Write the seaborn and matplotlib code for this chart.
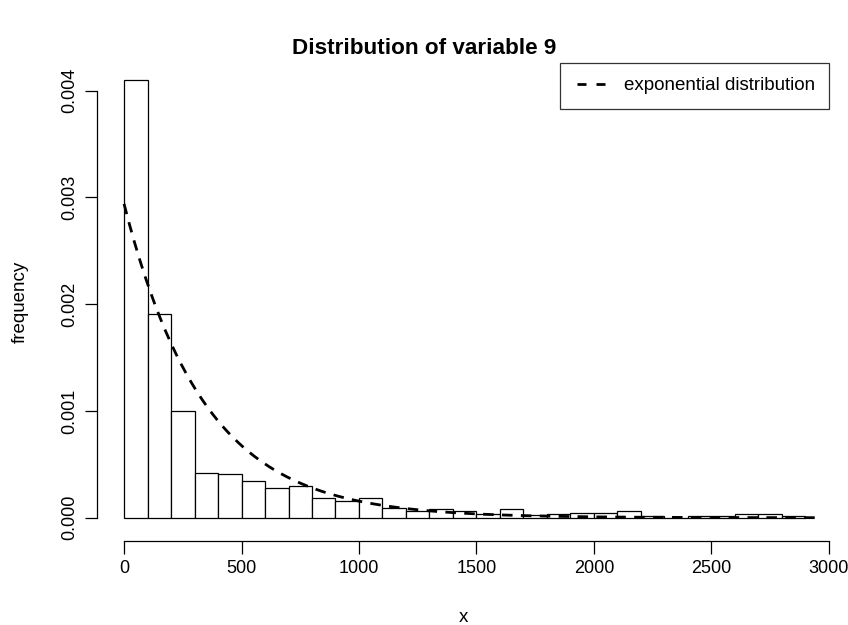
import numpy as np
import pandas as pd
import matplotlib
matplotlib.use("Agg")
import matplotlib.pyplot as plt
import seaborn as sns
from matplotlib.lines import Line2D

# ---- data ----
bin_left = list(range(0, 2900, 100))          # bins of width 100 from 0 to 2900
bin_width = 100
densities = [0.0041, 0.00191, 0.00100, 0.000422, 0.000406, 0.000341, 0.000281,
             0.000297, 0.000185, 0.000156, 0.000187, 0.000094, 0.000060, 0.000079,
             0.000063, 0.000032, 0.000079, 0.000022, 0.000032, 0.000047, 0.000047,
             0.000060, 0.000012, 0.0, 0.000012, 0.000012, 0.000032, 0.000032,
             0.000012]
exp_rate = 0.00294          # rate of the fitted exponential distribution
curve_end = 2940            # curve is drawn from 0 to here
x_ticks = [0, 500, 1000, 1500, 2000, 2500, 3000]
y_ticks = [0.000, 0.001, 0.002, 0.003, 0.004]
y_tick_labels = ["0.000", "0.001", "0.002", "0.003", "0.004"]

title = "Distribution of variable 9"
legend_label = "exponential distribution"

# ---- styling ----
sns.set_style("white")
plt.rcParams['font.family'] = ['Liberation Sans', 'DejaVu Sans']
plt.rcParams['text.color'] = 'black'
plt.rcParams['axes.labelcolor'] = 'black'
plt.rcParams['xtick.color'] = 'black'
plt.rcParams['ytick.color'] = 'black'

fig = plt.figure(figsize=(8.48, 6.25), dpi=100)
ax = fig.add_axes([0.1147, 0.1344, 0.8633, 0.7643])

df = pd.DataFrame({"x": [b + bin_width / 2 for b in bin_left], "w": densities})
edges = bin_left + [bin_left[-1] + bin_width]
sns.histplot(data=df, x="x", weights="w", bins=edges, stat="count",
             color="white", edgecolor="black", linewidth=0.9, alpha=1, ax=ax)

xs = np.linspace(0, curve_end, 400)
ys = exp_rate * np.exp(-exp_rate * xs)
sns.lineplot(x=xs, y=ys, ax=ax, color="black", linewidth=2.0, linestyle=(0, (3.8, 3.0)))

ax.set_xlim(-114, 3002)
ax.set_ylim(-0.000218, 0.004257)

for s in ["top", "right"]:
    ax.spines[s].set_visible(False)
ax.spines["left"].set_bounds(0, 0.004)
ax.spines["bottom"].set_bounds(0, 3000)
for s in ["left", "bottom"]:
    ax.spines[s].set_color("black")
    ax.spines[s].set_linewidth(0.9)

ax.set_xticks(x_ticks)
ax.set_xticklabels([str(t) for t in x_ticks])
ax.set_yticks(y_ticks)
ax.set_yticklabels(y_tick_labels, rotation=90, va="center")
ax.tick_params(axis="both", which="both", direction="out", length=9, width=0.9,
               color="black", labelsize=13, pad=5, left=True, bottom=True)

ax.set_xlabel("x", fontsize=13.5, labelpad=23)
ax.set_ylabel("frequency", fontsize=13.5, labelpad=23)
fig.text(0.5, 1 - 49 / 625, title, ha="center", va="center",
         fontsize=16.2, fontweight="bold")

handle = Line2D([0], [0], color="black", linewidth=2.0,
                linestyle=(5.76, (3.24, 3.6)))
leg = ax.legend([handle], [legend_label], loc="upper right", bbox_to_anchor=(1.0, 1.0),
                borderaxespad=0, frameon=True, fancybox=False, fontsize=13.5,
                handlelength=1.65, handletextpad=1.01, borderpad=0.75)
leg.get_frame().set_edgecolor("black")
leg.get_frame().set_linewidth(0.9)

fig.savefig("out.png", dpi=100, facecolor="white")
